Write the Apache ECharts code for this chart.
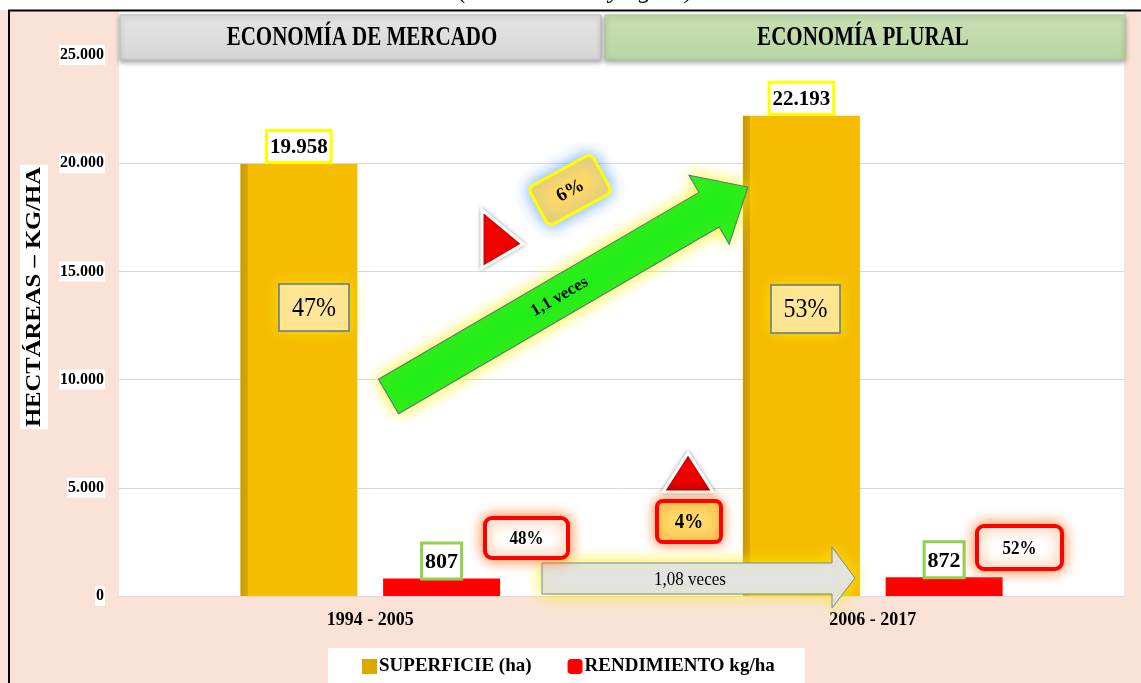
<!DOCTYPE html>
<html>
<head>
<meta charset="utf-8">
<script src="https://cdn.jsdelivr.net/npm/echarts@6/dist/echarts.min.js"></script>
<style>
  html, body { margin: 0; padding: 0; background: #fff; }
  #chart { width: 1141px; height: 683px; }
</style>
</head>
<body>
<div id="chart"></div>
<script>
// datos del grafico
const categorias = ['1994 - 2005', '2006 - 2017'];
const superficie = [19958, 22193];   // ha
const rendimiento = [807, 872];      // kg/ha
const nombres = ['SUPERFICIE (ha)', 'RENDIMIENTO kg/ha'];
const periodos = ['ECONOMÍA DE MERCADO', 'ECONOMÍA PLURAL'];

const SERIF = 'Liberation Serif, Times New Roman, serif';

function miles(v) {
  return String(v).replace(/\B(?=(\d{3})+(?!\d))/g, '.');
}
function coma(v, d) {
  return v.toFixed(d).replace('.', ',');
}

// porcentajes y variaciones calculados de los datos
const totSup = superficie[0] + superficie[1];
const totRen = rendimiento[0] + rendimiento[1];
const pctSup = superficie.map(v => Math.round(v / totSup * 100));
const pctRen = rendimiento.map(v => Math.round(v / totRen * 100));
const difSup = pctSup[1] - pctSup[0];
const difRen = pctRen[1] - pctRen[0];
const vecesSup = coma(superficie[1] / superficie[0], 1);
const vecesRen = coma(rendimiento[1] / rendimiento[0], 2);

const chart = echarts.init(document.getElementById('chart'));

function caja(x, y, w, h, txt, st, ts) {
  return [
    { type: 'rect', z: 100, shape: { x: x, y: y, width: w, height: h, r: st.r || 0 },
      style: { fill: st.fill, stroke: st.stroke, lineWidth: st.lw || 1,
        shadowBlur: st.blur || 0, shadowColor: st.glow || 'transparent' } },
    { type: 'text', z: 101, x: x + w / 2, y: y + h / 2 + 1, scaleY: 1.15,
      style: { text: txt, x: 0, y: 0,
        align: 'center', verticalAlign: 'middle', textAlign: 'center', textVerticalAlign: 'middle',
        font: ts, fill: '#000' } }
  ];
}

const L = 416; // largo de la flecha verde
const graficos = [
  // franja blanca superior y titulo cortado
  { type: 'rect', z: 1, shape: { x: 0, y: 0, width: 1141, height: 10 }, style: { fill: '#fff' } },
  { type: 'text', z: 2, style: { text: '(En hectáreas y kg/ha)', x: 576, y: 4, align: 'center', verticalAlign: 'bottom',
      textAlign: 'center', textVerticalAlign: 'bottom', font: 'italic 26px ' + SERIF, fill: '#000' } },
  // blanco sobre el area de trazado
  { type: 'rect', z: 1, shape: { x: 119, y: 11, width: 1005, height: 45 }, style: { fill: '#fff' } },
  // marco
  { type: 'line', z: 120, shape: { x1: 8, y1: 10.5, x2: 1141, y2: 10.5 }, style: { stroke: '#000', lineWidth: 2 } },
  { type: 'line', z: 120, shape: { x1: 9, y1: 10, x2: 9, y2: 683 }, style: { stroke: '#000', lineWidth: 2 } },
  // encabezados
  { type: 'rect', z: 90, shape: { x: 120, y: 15, width: 481, height: 45 },
    style: { fill: new echarts.graphic.LinearGradient(0, 0, 0, 1, [{ offset: 0, color: '#E4E4E4' }, { offset: 1, color: '#D6D6D6' }]),
      stroke: '#BDBDBD', lineWidth: 1, shadowBlur: 5, shadowOffsetY: 2, shadowColor: 'rgba(0,0,0,0.35)' } },
  { type: 'text', z: 91, x: 362, y: 38, scaleY: 1.25, style: { text: periodos[0], x: 0, y: 0, align: 'center', verticalAlign: 'middle',
      textAlign: 'center', textVerticalAlign: 'middle', font: 'bold 21px ' + SERIF, fill: '#000' } },
  { type: 'rect', z: 90, shape: { x: 605, y: 15, width: 520, height: 45 },
    style: { fill: new echarts.graphic.LinearGradient(0, 0, 0, 1, [{ offset: 0, color: '#C8E0B4' }, { offset: 1, color: '#BAD6A4' }]),
      stroke: '#A9C795', lineWidth: 1, shadowBlur: 5, shadowOffsetY: 2, shadowColor: 'rgba(0,0,0,0.35)' } },
  { type: 'text', z: 91, x: 863, y: 38, scaleY: 1.25, style: { text: periodos[1], x: 0, y: 0, align: 'center', verticalAlign: 'middle',
      textAlign: 'center', textVerticalAlign: 'middle', font: 'bold 21px ' + SERIF, fill: '#000' } },
  // titulo del eje y
  { type: 'text', z: 100, x: 34, y: 297, rotation: Math.PI / 2, scaleX: 1.12,
    style: { text: 'HECTÁREAS – KG/HA', x: 0, y: 0, align: 'center', verticalAlign: 'middle',
      textAlign: 'center', textVerticalAlign: 'middle', font: 'bold 22px ' + SERIF, fill: '#000',
      backgroundColor: '#fff', padding: [3, 2] } },
  // flecha verde
  { type: 'group', z: 95, x: 388.5, y: 396.5, rotation: 0.5276, children: [
    { type: 'polygon', z: 95, shape: { points: [[0, -20], [L - 45, -20], [L - 45, -40], [L, 0], [L - 45, 40], [L - 45, 20], [0, 20]] },
      style: { fill: '#22EE1A', stroke: '#4E7788', lineWidth: 1, shadowBlur: 16, shadowColor: 'rgba(255,238,0,0.9)' } },
    { type: 'text', z: 96, style: { text: vecesSup + ' veces', x: 198, y: 0, align: 'center', verticalAlign: 'middle',
        textAlign: 'center', textVerticalAlign: 'middle', font: 'bold 17px ' + SERIF, fill: '#000' } }
  ] },
  // flecha gris
  { type: 'polygon', z: 95, shape: { points: [[542, 563], [832, 563], [832, 547], [855, 578], [832, 608], [832, 594], [542, 594]] },
    style: { fill: '#E3E3E3', stroke: '#6A8BA6', lineWidth: 1, shadowBlur: 16, shadowColor: 'rgba(255,238,0,0.9)' } },
  { type: 'text', z: 96, x: 690, y: 580, scaleY: 1.15, style: { text: vecesRen + ' veces', x: 0, y: 0, align: 'center', verticalAlign: 'middle',
      textAlign: 'center', textVerticalAlign: 'middle', font: '17px ' + SERIF, fill: '#000' } },
  // triangulos rojos
  { type: 'polygon', z: 97, shape: { points: [[482, 210], [523, 244], [482, 268]] },
    style: { fill: new echarts.graphic.LinearGradient(0, 0, 1, 1, [{ offset: 0, color: '#FF0000' }, { offset: 0.7, color: '#F00000' }, { offset: 1, color: '#B00000' }]),
      stroke: '#fff', lineWidth: 3, shadowBlur: 4, shadowColor: 'rgba(0,0,0,0.3)' } },
  { type: 'polygon', z: 97, shape: { points: [[688, 453], [713, 492], [663, 492]] },
    style: { fill: new echarts.graphic.LinearGradient(0, 0, 0, 1, [{ offset: 0, color: '#FF0000' }, { offset: 0.75, color: '#EE0000' }, { offset: 1, color: '#A80000' }]),
      stroke: '#fff', lineWidth: 3, shadowBlur: 4, shadowColor: 'rgba(0,0,0,0.3)' } },
  // caja rotada del 6%
  { type: 'group', z: 100, x: 570, y: 190, rotation: 0.5, children: [
    { type: 'rect', z: 100, shape: { x: -36, y: -22, width: 72, height: 44, r: 6 },
      style: { fill: '#FFD966', stroke: '#FFFF00', lineWidth: 3, shadowBlur: 16, shadowColor: 'rgba(90,160,255,0.9)' } },
    { type: 'text', z: 101, style: { text: difSup + '%', x: 0, y: 1, align: 'center', verticalAlign: 'middle',
        textAlign: 'center', textVerticalAlign: 'middle', font: 'bold 19px ' + SERIF, fill: '#000' } }
  ] }
]
  .concat(caja(279, 284, 70, 47, pctSup[0] + '%', { fill: '#FFE699', stroke: '#5B7A93', lw: 1.5, blur: 14, glow: 'rgba(255,225,0,0.9)' }, '24px ' + SERIF))
  .concat(caja(771, 285, 69, 48, pctSup[1] + '%', { fill: '#FFE699', stroke: '#5B7A93', lw: 1.5, blur: 14, glow: 'rgba(255,225,0,0.9)' }, '24px ' + SERIF))
  .concat(caja(485, 518, 83, 40, pctRen[0] + '%', { fill: '#fff', stroke: '#FF0000', lw: 4, r: 7, blur: 14, glow: 'rgba(255,110,20,0.85)' }, 'bold 17px ' + SERIF))
  .concat(caja(977, 526, 85, 43, pctRen[1] + '%', { fill: '#fff', stroke: '#FF0000', lw: 4, r: 7, blur: 14, glow: 'rgba(255,110,20,0.85)' }, 'bold 17px ' + SERIF))
  .concat(caja(657, 501, 64, 41, difRen + '%', { fill: '#FFD966', stroke: '#FF0000', lw: 4, r: 6, blur: 12, glow: 'rgba(255,110,20,0.8)' }, 'bold 19px ' + SERIF));

const option = {
  backgroundColor: '#FAE3D6',
  animation: false,
  textStyle: { fontFamily: SERIF },
  grid: { left: 119, right: 17, top: 55, bottom: 87, show: true, backgroundColor: '#fff', borderWidth: 0 },
  legend: {
    left: 328, top: 648,
    backgroundColor: '#fff',
    padding: [9, 30, 10, 34],
    itemWidth: 15, itemHeight: 15, itemGap: 36,
    textStyle: { fontFamily: SERIF, fontWeight: 'bold', fontSize: 19, color: '#000', padding: [0, 0, 0, -3] },
    data: [
      { name: nombres[0], icon: 'rect', itemStyle: { color: '#DDA800' } },
      { name: nombres[1], icon: 'roundRect', itemStyle: { color: '#FF0000' } }
    ]
  },
  xAxis: {
    type: 'category',
    data: categorias,
    axisLine: { lineStyle: { color: '#D9D9D9' } },
    axisTick: { show: false },
    axisLabel: { margin: 15, color: '#000', fontFamily: SERIF, fontWeight: 'bold', fontSize: 18 }
  },
  yAxis: {
    type: 'value',
    min: 0, max: 25000, interval: 5000,
    axisLine: { show: false },
    axisTick: { show: false },
    splitLine: { lineStyle: { color: '#D9D9D9' } },
    axisLabel: {
      margin: 14, color: '#000', fontFamily: SERIF, fontWeight: 'bold', fontSize: 16,
      backgroundColor: '#fff', padding: [2, 1],
      formatter: v => miles(v)
    }
  },
  graphic: { elements: graficos },
  series: [
    {
      name: nombres[0], type: 'bar', data: superficie,
      barWidth: 117, barGap: '22%',
      itemStyle: {
        color: new echarts.graphic.LinearGradient(0, 0, 1, 0, [
          { offset: 0, color: '#C99A00' }, { offset: 0.06, color: '#D9A500' },
          { offset: 0.065, color: '#F5BC00' }, { offset: 1, color: '#F5BC00' }
        ])
      },
      label: {
        show: true, position: 'top', distance: 3,
        formatter: p => miles(p.value),
        fontFamily: SERIF, fontWeight: 'bold', fontSize: 21, color: '#000',
        backgroundColor: '#fff', borderColor: '#FFFF00', borderWidth: 3, padding: [5, 2, 3, 2]
      }
    },
    {
      name: nombres[1], type: 'bar', data: rendimiento,
      barWidth: 117,
      itemStyle: { color: '#FF0000' },
      label: {
        show: true, position: 'top', distance: 1,
        formatter: p => miles(p.value),
        fontFamily: SERIF, fontWeight: 'bold', fontSize: 22, color: '#000',
        backgroundColor: '#fff', borderColor: '#92D050', borderWidth: 3, padding: [7, 2, 4, 2]
      }
    }
  ]
};

chart.setOption(option);
</script>
</body>
</html>
